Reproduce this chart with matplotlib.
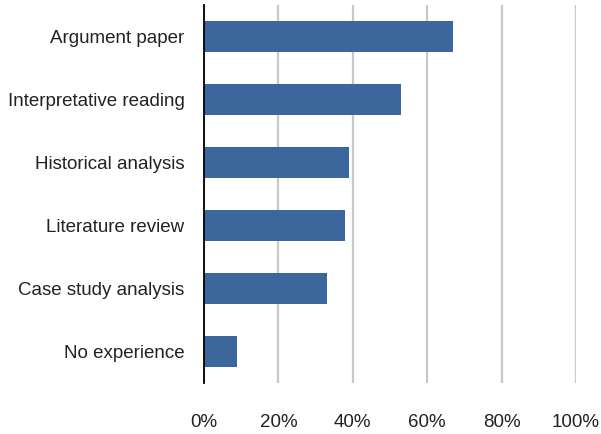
import matplotlib
matplotlib.use("Agg")
import matplotlib.pyplot as plt
from matplotlib.ticker import PercentFormatter

# data (top to bottom)
categories = ["Argument paper", "Interpretative reading", "Historical analysis",
              "Literature review", "Case study analysis", "No experience"]
values = [67, 53, 39, 38, 33, 9]
xticks = [0, 20, 40, 60, 80, 100]

plt.rcParams["font.family"] = ["Liberation Sans", "DejaVu Sans"]

fig = plt.figure(figsize=(6.01, 4.34), dpi=100)
ax = fig.add_axes([204 / 601, 1 - 383 / 434, 372 / 601, 378 / 434])

ypos = list(range(len(categories)))[::-1]
ax.barh(ypos, values, height=0.5, color="#3c679c", zorder=3)

ax.set_xlim(0, 100)
ax.set_ylim(-0.5, len(categories) - 0.5)
ax.set_xticks(xticks)
ax.xaxis.set_major_formatter(PercentFormatter(decimals=0))
ax.set_yticks(ypos)
ax.set_yticklabels(categories)

ax.grid(axis="x", color="#c8c8c8", lw=1.6, zorder=0)
for s in ("top", "right", "bottom"):
    ax.spines[s].set_visible(False)
ax.spines["left"].set_color("black")
ax.spines["left"].set_linewidth(1.3)
ax.spines["left"].set_zorder(4)

ax.tick_params(axis="x", length=0, pad=22, labelsize=13.5, labelcolor="#222222")
ax.tick_params(axis="y", length=0, pad=14, labelsize=13.5, labelcolor="#222222")

fig.savefig("out.png", dpi=100)
